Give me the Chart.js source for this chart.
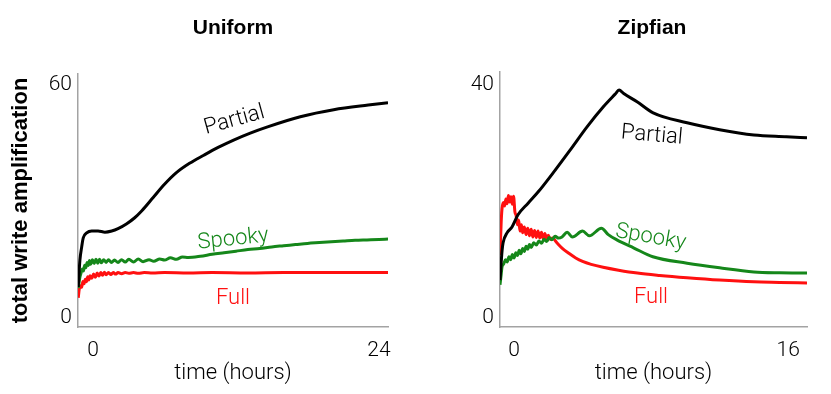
<!DOCTYPE html>
<html>
<head>
<meta charset="utf-8">
<script src="https://cdn.jsdelivr.net/npm/chart.js@4"></script>
<style>
  body { margin: 0; background: #fff; }
  #wrap { position: relative; width: 831px; height: 394px; overflow: hidden; }
  .box { position: absolute; top: 0; height: 394px; }
  .lbl { position: absolute; white-space: nowrap; line-height: 1;
         transform-origin: center center; font-family: Roboto, "Liberation Sans", sans-serif;
         font-weight: 300; font-size: 22px; }
  .ttl { position: absolute; white-space: nowrap; line-height: 1; transform: translate(-50%, -50%);
         font-family: "Liberation Sans", Arial, sans-serif; font-weight: bold; font-size: 21px; color: #000; }
</style>
</head>
<body>
<div id="wrap">
  <div class="box" style="left:0;width:420px"><canvas id="uniformChart"></canvas></div>
  <div class="box" style="left:420px;width:411px"><canvas id="zipfChart"></canvas></div>

  <div class="ttl" style="left:233px;top:26px">Uniform</div>
  <div class="ttl" style="left:652px;top:26px">Zipfian</div>

  <div class="lbl" style="left:234px;top:119px;color:#000;transform:translate(-50%,-50%) rotate(-15.5deg)">Partial</div>
  <div class="lbl" style="left:233px;top:238px;color:#15871a;transform:translate(-50%,-50%) rotate(-6deg)">Spooky</div>
  <div class="lbl" style="left:233px;top:297px;color:#ff1010;transform:translate(-50%,-50%)">Full</div>

  <div class="lbl" style="left:652px;top:134px;color:#000;transform:translate(-50%,-50%) rotate(5deg)">Partial</div>
  <div class="lbl" style="left:651px;top:236px;color:#15871a;transform:translate(-50%,-50%) rotate(10deg)">Spooky</div>
  <div class="lbl" style="left:651px;top:296px;color:#ff1010;transform:translate(-50%,-50%)">Full</div>
</div>

<script>
// Uniform workload (hours, total write amplification)
const uniformPartialHours = [-1.24, -1.1, -0.95, -0.82, -0.53, -0.11, 0.42, 1.0, 1.57, 2.1, 2.8, 3.5, 4.1, 5.05, 6.0, 7.0, 8.1, 9.3, 10.5, 11.8, 13.2, 14.65, 17.4, 20.2, 23.1, 24.76];
const uniformPartialValues = [8.0, 14.9, 18.3, 20.6, 21.9, 22.4, 22.4, 22.1, 22.4, 23.0, 24.2, 25.8, 27.6, 31.0, 34.4, 37.4, 39.8, 41.9, 43.9, 45.8, 47.6, 49.2, 51.8, 53.6, 54.8, 55.4];

const uniformSpookyHours = [-1.24, -1.1, -1.0, -0.9, -0.8, -0.7, -0.6, -0.5, -0.4, -0.3, -0.2, -0.05, 0.1, 0.25, 0.4, 0.55, 0.7, 0.9, 1.1, 1.3, 1.55, 1.8, 2.1, 2.4, 2.7, 3.0, 3.4, 3.8, 4.2, 4.7, 5.1, 5.6, 6.0, 6.5, 7.0, 7.5, 8.0, 9.0, 10.0, 11.0, 12.0, 13.0, 14.0, 15.0, 16.0, 17.0, 18.0, 19.0, 20.0, 21.0, 22.0, 23.0, 24.0, 24.76];
const uniformSpookyValues = [7.7, 10.5, 11.6, 12.6, 12.1, 13.6, 12.9, 14.3, 13.5, 14.8, 13.8, 15.0, 14.0, 15.1, 14.1, 15.1, 14.2, 15.0, 14.3, 15.0, 14.3, 14.9, 14.3, 15.0, 14.4, 15.1, 14.4, 15.2, 14.5, 15.0, 14.6, 15.2, 14.9, 15.5, 15.1, 15.7, 15.6, 15.9, 16.4, 16.8, 17.2, 17.6, 17.9, 18.3, 18.6, 18.9, 19.2, 19.4, 19.6, 19.8, 20.0, 20.1, 20.2, 20.3];

const uniformFullHours = [-1.24, -1.15, -1.05, -0.95, -0.85, -0.75, -0.65, -0.55, -0.45, -0.35, -0.25, -0.1, 0.05, 0.2, 0.35, 0.5, 0.65, 0.8, 0.95, 1.1, 1.3, 1.5, 1.7, 1.9, 2.1, 2.4, 2.7, 3.0, 3.4, 3.8, 4.3, 5.0, 6.0, 8.0, 10.0, 13.0, 16.0, 19.0, 22.0, 24.76];
const uniformFullValues = [5.2, 7.5, 8.3, 7.9, 9.4, 8.8, 10.0, 9.3, 10.6, 9.8, 10.9, 10.2, 11.3, 10.5, 11.6, 10.8, 11.7, 11.0, 11.8, 11.1, 11.7, 11.2, 11.7, 11.3, 11.7, 11.4, 11.7, 11.5, 11.7, 11.5, 11.7, 11.6, 11.7, 11.6, 11.7, 11.6, 11.7, 11.7, 11.7, 11.7];

// Zipfian workload
const zipfPartialHours = [-0.82, -0.7, -0.64, -0.41, -0.12, 0.23, 0.82, 1.4, 2.28, 3.27, 4.26, 5.2, 5.9, 6.13, 6.4, 7.18, 8.12, 10.1, 12.0, 14.0, 15.9, 17.1];
const zipfPartialValues = [6.5, 11.5, 12.9, 14.6, 15.6, 17.7, 19.7, 21.6, 24.9, 28.8, 32.8, 36.2, 38.4, 39.1, 38.5, 37.1, 35.2, 33.5, 32.3, 31.4, 31.1, 30.9];

const zipfSpookyHours = [-0.82, -0.75, -0.7, -0.6, -0.5, -0.4, -0.3, -0.2, -0.1, 0.0, 0.1, 0.2, 0.3, 0.4, 0.5, 0.6, 0.7, 0.8, 0.9, 1.0, 1.15, 1.3, 1.45, 1.6, 1.75, 1.9, 2.05, 2.2, 2.4, 2.6, 2.8, 3.1, 3.4, 4.0, 4.4, 5.1, 5.5, 6.0, 7.0, 8.1, 10.1, 12.0, 14.0, 15.5, 17.1];
const zipfSpookyValues = [5.7, 7.5, 8.8, 9.3, 10.0, 9.6, 10.5, 10.0, 10.9, 10.3, 11.2, 10.7, 11.6, 11.0, 11.9, 11.4, 12.3, 11.8, 12.6, 12.1, 12.9, 12.5, 13.2, 12.8, 13.5, 13.1, 13.8, 13.4, 14.0, 13.7, 13.9, 14.7, 13.9, 14.9, 14.1, 15.4, 14.3, 13.4, 12.0, 10.5, 9.4, 8.6, 7.9, 7.75, 7.7];

const zipfFullHours = [-0.82, -0.75, -0.7, -0.62, -0.55, -0.48, -0.4, -0.33, -0.25, -0.18, -0.1, -0.03, 0.05, 0.12, 0.2, 0.27, 0.35, 0.43, 0.5, 0.6, 0.7, 0.8, 0.9, 1.0, 1.1, 1.2, 1.3, 1.4, 1.5, 1.6, 1.7, 1.8, 1.9, 2.0, 2.1, 2.25, 2.5, 2.8, 3.2, 3.6, 4.0, 4.5, 5.2, 6.1, 7.2, 8.5, 10.1, 12.0, 14.0, 15.5, 17.1];
const zipfFullValues = [10.8, 16.5, 18.8, 19.8, 19.2, 20.4, 19.6, 21.0, 19.9, 20.8, 19.5, 20.9, 18.2, 17.6, 16.0, 16.8, 14.9, 16.0, 14.6, 15.6, 14.3, 15.4, 14.1, 15.2, 13.9, 15.0, 13.8, 14.9, 13.7, 14.7, 13.6, 14.5, 13.5, 14.2, 13.5, 13.7, 12.9, 12.0, 11.1, 10.3, 9.7, 9.2, 8.7, 8.2, 7.7, 7.3, 6.9, 6.5, 6.2, 6.1, 6.0];

// tick labels shown on the axes
const uniformXTicks = [0, 24];
const uniformYTicks = [0, 60];
const zipfXTicks = [0, 16];
const zipfYTicks = [0, 40];

const BLACK = "#000000";
const GREEN = "#15871a";
const RED = "#ff1010";

function pts(hours, values) {
    return hours.map((h, i) => ({ x: h, y: values[i] }));
}

function series(hours, values, color) {
    return {
        data: pts(hours, values),
        borderColor: color,
        borderWidth: 3,
        pointRadius: 0,
        fill: false,
        cubicInterpolationMode: "monotone"
    };
}

const tickFont = { family: "Roboto, 'Liberation Sans', sans-serif", size: 21, weight: "300" };

function makeChart(id, sets, opt) {
    return new Chart(document.getElementById(id), {
        type: "line",
        data: { datasets: sets },
        options: {
            responsive: true,
            maintainAspectRatio: false,
            animation: false,
            layout: { padding: { left: 0, top: opt.top, right: opt.right, bottom: 0 } },
            plugins: { legend: { display: false }, tooltip: { enabled: false } },
            scales: {
                x: {
                    type: "linear",
                    min: opt.xMin,
                    max: opt.xMax,
                    grid: { display: false, drawTicks: false },
                    border: { display: true, color: "#a3a3a3", width: 1.5 },
                    afterBuildTicks: s => { s.ticks = opt.xTicks.map(v => ({ value: v })); },
                    afterFit: s => { s.height = 394 - 327; },
                    ticks: { color: "#000", font: tickFont, padding: 11, maxRotation: 0 },
                    title: {
                        display: true,
                        text: "time (hours)",
                        color: "#000",
                        font: { family: "Roboto, 'Liberation Sans', sans-serif", size: 22, weight: "300" },
                        padding: { top: 0, bottom: 7 }
                    }
                },
                y: {
                    type: "linear",
                    min: opt.yMin,
                    max: opt.yMax,
                    grid: { display: false, drawTicks: false },
                    border: { display: true, color: "#a3a3a3", width: 1.5 },
                    afterBuildTicks: s => { s.ticks = opt.yTicks.map(v => ({ value: v })); },
                    afterFit: s => { s.width = opt.left; },
                    ticks: { color: "#000", font: tickFont, padding: 6 },
                    title: {
                        display: opt.yTitle,
                        text: "total write amplification",
                        color: "#000",
                        font: { family: "'Liberation Sans', Arial, sans-serif", size: 22, weight: "bold" },
                        padding: { top: 8, bottom: 0 }
                    }
                }
            }
        }
    });
}

makeChart("uniformChart", [
    series(uniformPartialHours, uniformPartialValues, BLACK),
    series(uniformSpookyHours, uniformSpookyValues, GREEN),
    series(uniformFullHours, uniformFullValues, RED)
], {
    xMin: -1.26, xMax: 24.76, yMin: -2.32, yMax: 62.8,
    xTicks: uniformXTicks, yTicks: uniformYTicks,
    left: 78, top: 74, right: 32, yTitle: true
});

makeChart("zipfChart", [
    series(zipfPartialHours, zipfPartialValues, BLACK),
    series(zipfSpookyHours, zipfSpookyValues, GREEN),
    series(zipfFullHours, zipfFullValues, RED)
], {
    xMin: -0.82, xMax: 17.1, yMin: -1.55, yMax: 42.2,
    xTicks: zipfXTicks, yTicks: zipfYTicks,
    left: 80, top: 72, right: 24, yTitle: false
});
</script>
</body>
</html>
